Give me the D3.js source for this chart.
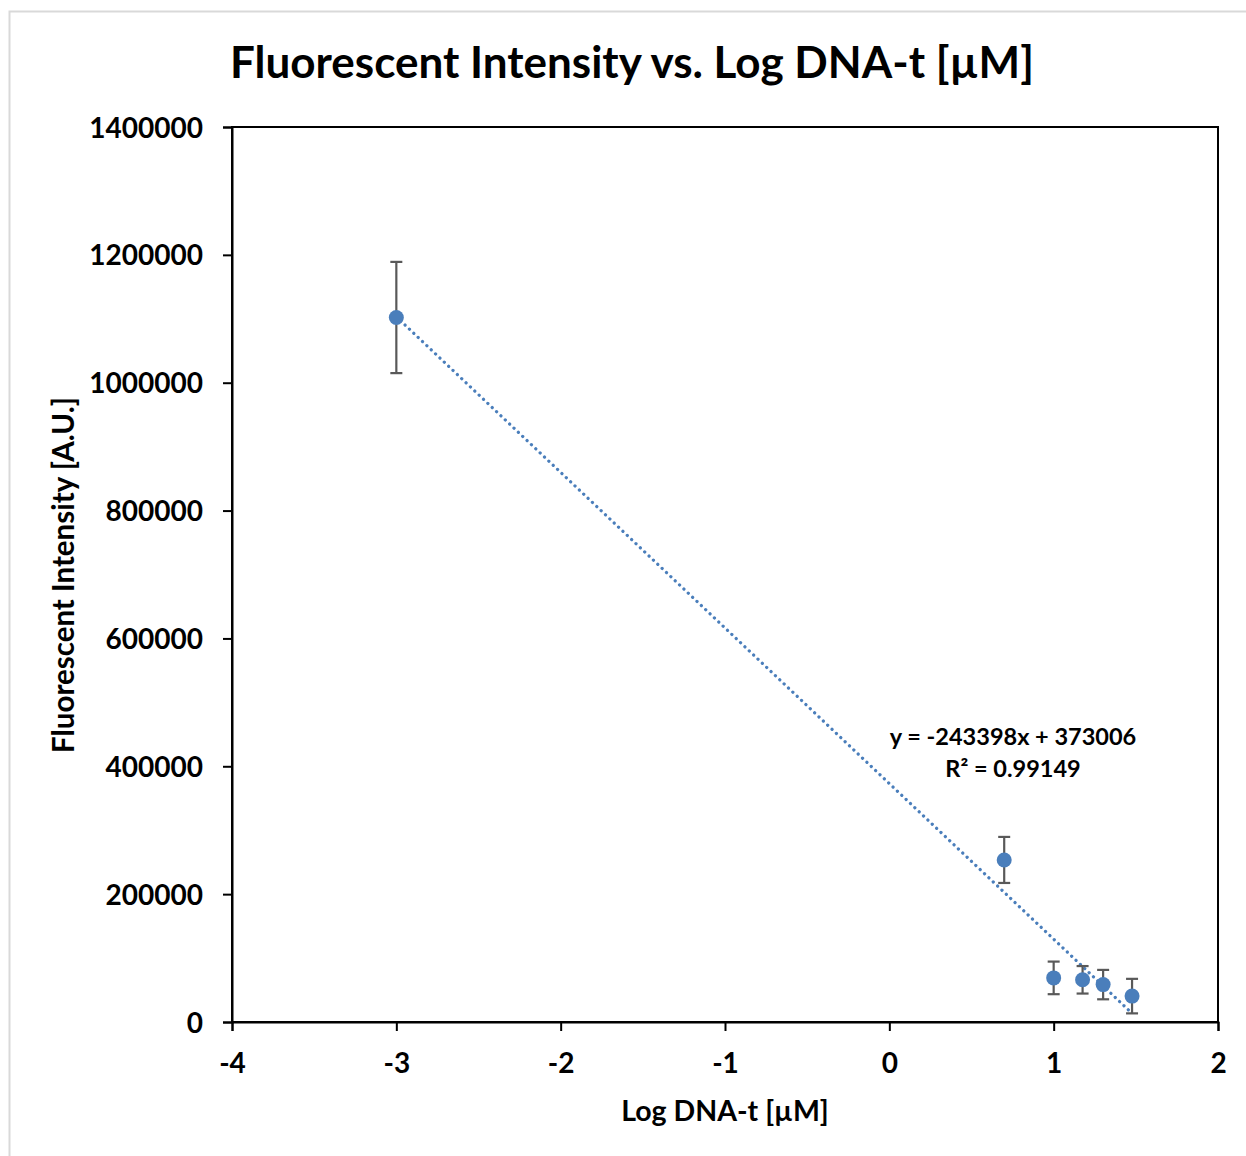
<!DOCTYPE html>
<html>
<head>
<meta charset="utf-8">
<script src="https://cdn.jsdelivr.net/npm/d3@7"></script>
<style>
  body { margin: 0; background: #fff; }
  svg text { font-family: Lato, "Open Sans", sans-serif; font-weight: 700; fill: #000; }
</style>
</head>
<body>
<div id="chart"></div>
<script>
// data
var logConc = [-3, 0.699, 1, 1.176, 1.301, 1.477];
var intensity = [1102000, 253500, 69000, 66000, 58500, 40500];
var errors = [87000, 36000, 25500, 21500, 23000, 27000];
var slope = -243398, intercept = 373006;
var xTicks = [-4, -3, -2, -1, 0, 1, 2];
var yTicks = [0, 200000, 400000, 600000, 800000, 1000000, 1200000, 1400000];
var eqLines = ["y = -243398x + 373006", "R\u00b2 = 0.99149"];

var W = 1246, H = 1156;
var margin = { left: 232, right: 28, top: 127, bottom: 134 };
var width = W - margin.left - margin.right;
var height = H - margin.top - margin.bottom;

var svg = d3.select('#chart').append('svg').attr('width', W).attr('height', H);

// outer chart border (only top and left show)
svg.append('rect').attr('x', 9.5).attr('y', 11.5).attr('width', W).attr('height', H)
  .attr('fill', 'none').attr('stroke', '#d9d9d9').attr('stroke-width', 2);

var g = svg.append('g').attr('transform', 'translate(' + margin.left + ',' + margin.top + ')');

var x = d3.scaleLinear().domain([-4, 2]).range([0, width]);
var y = d3.scaleLinear().domain([0, 1400000]).range([height, 0]);

// plot frame
g.append('rect').attr('width', width).attr('height', height)
  .attr('fill', 'none').attr('stroke', '#000').attr('stroke-width', 2);

var fmt = function (d) { return String(d); }; // plain hyphen minus like Excel
var xAxis = g.append('g').attr('transform', 'translate(0,' + height + ')')
  .call(d3.axisBottom(x).tickValues(xTicks).tickSize(9).tickPadding(22).tickFormat(fmt));
var yAxis = g.append('g')
  .call(d3.axisLeft(y).tickValues(yTicks).tickSize(9).tickPadding(20).tickFormat(fmt));

[xAxis, yAxis].forEach(function (a) {
  a.select('.domain').attr('stroke', '#000').attr('stroke-width', 2);
  a.selectAll('.tick line').attr('stroke', '#000').attr('stroke-width', 2);
  a.selectAll('.tick text').style('font-size', '28px').attr('fill', '#000');
});
yAxis.selectAll('.tick text').attr('dy', '0.36em');

// trendline
var xmin = d3.min(logConc), xmax = d3.max(logConc);
g.append('line')
  .attr('x1', x(xmin)).attr('y1', y(slope * xmin + intercept))
  .attr('x2', x(xmax)).attr('y2', y(slope * xmax + intercept))
  .attr('stroke', '#4a7ebb').attr('stroke-width', 3.2)
  .attr('stroke-linecap', 'round').attr('stroke-dasharray', '0.1 5.9');

var pts = logConc.map(function (v, i) { return { x: v, y: intensity[i], e: errors[i] }; });

// error bars
var eb = g.append('g').attr('stroke', '#595959').attr('stroke-width', 2.2);
pts.forEach(function (d) {
  var cx = x(d.x);
  eb.append('line').attr('x1', cx).attr('x2', cx).attr('y1', y(d.y - d.e)).attr('y2', y(d.y + d.e));
  eb.append('line').attr('x1', cx - 6).attr('x2', cx + 6).attr('y1', y(d.y + d.e)).attr('y2', y(d.y + d.e));
  eb.append('line').attr('x1', cx - 6).attr('x2', cx + 6).attr('y1', y(d.y - d.e)).attr('y2', y(d.y - d.e));
});

g.selectAll('circle.pt').data(pts).enter().append('circle')
  .attr('class', 'pt')
  .attr('cx', function (d) { return x(d.x); })
  .attr('cy', function (d) { return y(d.y); })
  .attr('r', 7.5)
  .attr('fill', '#4a7ebb');

// equation
eqLines.forEach(function (t, i) {
  svg.append('text').attr('x', 1013).attr('y', 745 + i * 32)
    .attr('text-anchor', 'middle').style('font-size', '23.5px').text(t);
});

// titles
svg.append('text').attr('x', 632).attr('y', 78).attr('text-anchor', 'middle')
  .style('font-size', '44px').text('Fluorescent Intensity vs. Log DNA-t [\u00b5M]');
svg.append('text').attr('x', 725).attr('y', 1121).attr('text-anchor', 'middle')
  .style('font-size', '28.5px').text('Log DNA-t [\u00b5M]');
svg.append('text').attr('transform', 'translate(74,575) rotate(-90)').attr('text-anchor', 'middle')
  .style('font-size', '29.5px').text('Fluorescent Intensity [A.U.]');
</script>
</body>
</html>
